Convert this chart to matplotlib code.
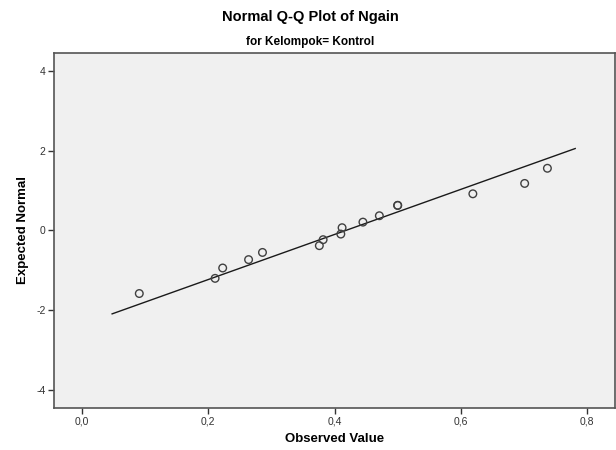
import numpy as np
import matplotlib
matplotlib.use('Agg')
import matplotlib.pyplot as plt

plt.rcParams['font.family'] = ['Liberation Sans', 'DejaVu Sans']

observed = [0.091, 0.211, 0.223, 0.264, 0.286, 0.376, 0.382, 0.410, 0.412,
            0.445, 0.471, 0.500, 0.500, 0.619, 0.701, 0.737]
expected = [-1.58, -1.20, -0.94, -0.73, -0.55, -0.38, -0.23, -0.09, 0.07,
            0.21, 0.37, 0.63, 0.63, 0.92, 1.18, 1.56]

# reference line end points
line_x = [0.048, 0.781]
line_y = [-2.09, 2.055]

x_ticks = [0.0, 0.2, 0.4, 0.6, 0.8]
x_labels = ['0,0', '0,2', '0,4', '0,6', '0,8']
y_ticks = [-4, -2, 0, 2, 4]
y_labels = ['-4', '-2', '0', '2', '4']

fig = plt.figure(figsize=(6.16, 4.5), dpi=100)
ax = fig.add_axes([54 / 616, 1 - 408 / 450, (615 - 54) / 616, (408 - 53) / 450])
ax.set_facecolor('#f0f0f0')

ax.plot(line_x, line_y, color='#1a1a1a', lw=1.0, zorder=2)
ax.scatter(observed, expected, s=30, facecolors='none', edgecolors='#404040',
           linewidths=1.0, zorder=3)

ax.set_xlim(-0.044, 0.844)
ax.set_ylim(-4.45, 4.45)
ax.set_xticks(x_ticks)
ax.set_xticklabels(x_labels)
ax.set_yticks(y_ticks)
ax.set_yticklabels(y_labels)
ax.tick_params(axis='both', labelsize=7.5, length=4, width=1, color='#333333',
               labelcolor='#333333', pad=2)

for side in ['left', 'bottom', 'top', 'right']:
    ax.spines[side].set_color('#555555')
    ax.spines[side].set_linewidth(1.2)

ax.set_xlabel('Observed Value', fontsize=9.5, fontweight='bold', labelpad=5)
ax.set_ylabel('Expected Normal', fontsize=9.5, fontweight='bold', labelpad=5)

fig.text(310 / 616, 1 - 17 / 450, 'Normal Q-Q Plot of Ngain', ha='center',
         va='center', fontsize=10.5, fontweight='bold')
fig.text(310 / 616, 1 - 42 / 450, 'for Kelompok= Kontrol', ha='center',
         va='center', fontsize=8.5, fontweight='bold')

fig.savefig('out.png', dpi=100, facecolor='white')
